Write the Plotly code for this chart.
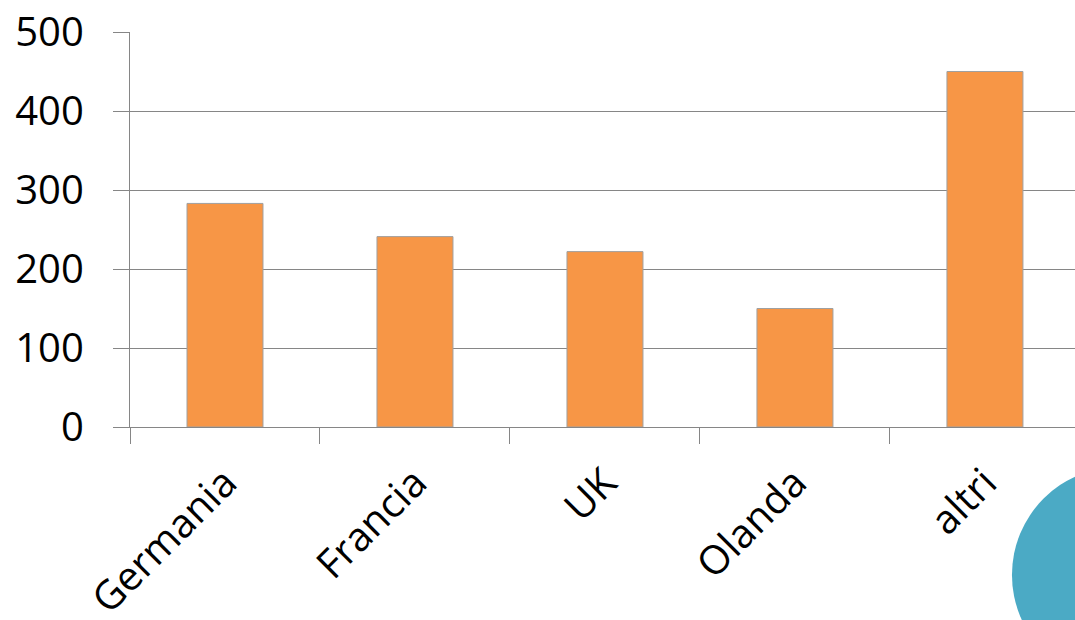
import plotly.graph_objects as go

categories = ["Germania", "Francia", "UK", "Olanda", "altri"]
values = [283, 241, 222, 150, 450]
y_ticks = [0, 100, 200, 300, 400, 500]

GRAY = "#868686"
FONT = "Open Sans"

fig = go.Figure()
fig.add_trace(go.Bar(
    x=categories, y=values, width=0.4,
    marker=dict(color="#F79646", line=dict(color="#A0A0A0", width=1)),
))

fig.update_layout(
    width=1075, height=620,
    margin=dict(l=130, r=0, t=32, b=193, autoexpand=False),
    plot_bgcolor="white", paper_bgcolor="white",
    showlegend=False,
    font=dict(family=FONT, size=40, color="#000000"),
    bargap=0.6,
)
fig.update_yaxes(
    range=[0, 500], tickvals=y_ticks, automargin=False,
    showgrid=True, gridcolor=GRAY, gridwidth=1.4,
    showline=True, linecolor=GRAY, linewidth=1.4,
    ticks="outside", ticklen=16, tickcolor=GRAY, tickwidth=1.4,
    ticklabelstandoff=21, zeroline=False,
    tickfont=dict(family=FONT, size=40),
)
fig.update_xaxes(
    type="category", range=[-0.5, 4.474], automargin=False,
    showline=True, linecolor=GRAY, linewidth=1.4,
    ticks="outside", ticklen=16, tickcolor=GRAY, tickwidth=1.4,
    tickson="boundaries", tickangle=-45,
    ticklabelstandoff=15,
    tickfont=dict(family=FONT, size=40),
)

# decorative blue blob in bottom-right corner
fig.add_shape(
    type="circle", xref="paper", yref="paper",
    x0=0.9333, x1=1.1619, y0=-0.648, y1=-0.101,
    fillcolor="#4BAAC5", line=dict(width=0), layer="above",
)

fig.write_html(
    "out.html",
    config={"displayModeBar": False},
    post_script="document.body.style.margin='0';document.body.style.overflow='hidden';",
)
